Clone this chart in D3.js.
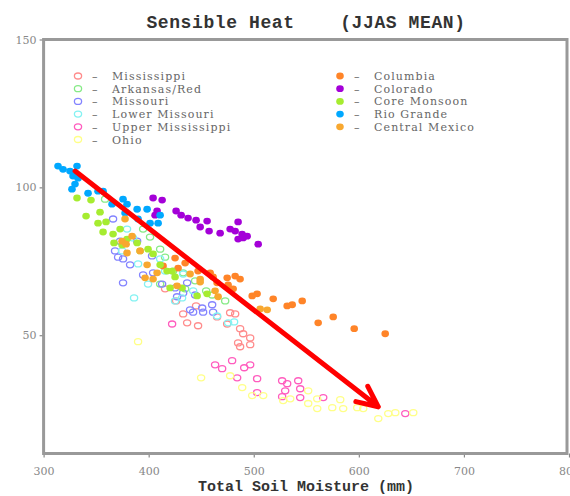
<!DOCTYPE html>
<html>
<head>
<meta charset="utf-8">
<script src="https://cdn.jsdelivr.net/npm/d3@7"></script>
<style>
    body { margin: 0; background: #fff; }
    svg { display: block; }
</style>
</head>
<body>
<div id="chart"></div>
<script>
// Soil moisture (mm) vs sensible heat, one array per basin
const mississippi = [[415.6,65.7],[426.1,61.6],[432.8,57.2],[436.6,54.2],[447.0,53.2],[477.5,57.6],[482.3,57.2],[474.7,53.8],[487.0,52.2],[489.9,50.5],[485.1,47.4],[496.6,49.1],[487.0,46.1],[496.6,46.8],[465.1,56.2],[445.1,59.9]];
const arkansasRed = [[358.5,96.0],[394.7,85.9],[401.3,83.2],[410.9,79.1],[415.6,76.4],[423.2,71.7],[410.9,67.3],[432.8,71.1],[434.7,65.7],[454.7,65.0],[460.4,63.6],[444.2,68.4],[472.8,61.6]];
const missouri = [[366.1,89.3],[372.8,81.8],[368.0,78.5],[370.9,76.4],[375.6,75.8],[382.3,73.8],[389.0,81.8],[403.2,76.8],[394.7,70.4],[404.2,71.1],[375.6,67.7],[412.8,67.3],[425.1,66.0],[436.6,67.7],[432.8,64.3],[427.0,63.0],[444.2,63.6],[439.4,58.6],[450.9,59.2],[460.4,60.3],[442.3,57.8],[451.8,57.8],[461.3,57.8]];
const lowerMissouri = [[379.4,85.9],[385.1,82.9],[374.7,78.5],[389.9,74.1],[399.4,67.3],[386.1,62.6],[415.6,71.7],[432.8,70.7],[431.8,62.6],[442.3,65.0],[465.1,56.5],[475.6,54.2],[481.3,54.5],[410.9,75.8],[425.1,61.6]];
const upperMississippi = [[422.3,53.8],[463.2,40.0],[469.9,38.7],[479.4,41.4],[490.9,39.0],[496.6,40.0],[484.2,35.6],[503.2,35.3],[503.2,30.6],[527.0,34.6],[531.8,33.6],[529.9,31.2],[527.0,29.2],[542.3,34.6],[544.2,31.9],[544.2,28.9],[566.1,28.9],[644.2,23.5]];
const ohio = [[389.9,47.8],[449.9,35.6],[477.5,36.3],[489.0,32.3],[498.5,29.6],[509.0,29.6],[528.0,27.9],[534.7,28.5],[551.8,31.2],[560.4,28.5],[551.8,26.9],[560.4,25.2],[574.7,25.5],[582.3,28.2],[585.1,25.2],[598.5,25.5],[604.2,25.2],[618.5,21.8],[628.0,23.5],[634.7,23.8],[651.8,23.8]];
const columbia = [[413.7,73.4],[425.1,76.1],[428.0,72.7],[434.7,74.4],[447.0,71.7],[458.5,71.1],[461.3,69.7],[465.1,67.7],[474.7,69.4],[482.3,70.0],[475.6,67.0],[480.4,65.7],[487.0,69.0],[498.5,63.3],[503.2,64.0],[518.5,62.3],[531.8,59.9],[536.6,60.3],[546.1,61.6],[561.3,54.2],[575.6,56.2],[595.6,52.2],[625.1,50.5]];
const colorado = [[404.2,96.4],[412.8,95.7],[408.0,92.0],[406.1,90.6],[426.1,92.0],[430.9,90.6],[437.5,89.6],[445.1,88.9],[455.6,88.6],[449.0,86.6],[457.5,85.2],[468.0,84.5],[477.5,85.9],[485.1,88.3],[482.3,85.2],[488.9,84.2],[493.7,83.5],[485.1,82.5],[489.9,82.9],[504.2,80.8]];
const coreMonsoon = [[331.8,96.4],[345.1,95.7],[353.7,91.6],[340.4,90.3],[351.8,87.9],[359.4,88.3],[356.6,84.9],[366.1,84.2],[372.8,85.9],[367.0,81.2],[379.4,82.5],[374.7,80.5],[389.0,81.2],[391.8,78.5],[399.4,79.1],[404.2,77.5],[410.9,73.8],[417.5,71.7],[422.3,71.7],[425.1,69.7],[420.4,66.0],[431.8,66.0],[446.1,63.3],[455.6,64.0]];
const rioGrande = [[313.7,107.2],[318.5,106.1],[325.1,105.5],[331.8,107.2],[328.0,103.8],[332.8,103.1],[329.9,101.1],[327.0,99.4],[342.3,98.0],[351.8,98.7],[356.6,98.7],[365.1,94.3],[375.6,96.0],[379.4,94.3],[389.0,92.6],[398.5,92.6],[377.5,91.3],[389.9,89.3],[401.3,87.9],[409.0,87.9],[410.9,90.6]];
const centralMexico = [[377.5,89.3],[374.7,81.8],[378.5,80.8],[384.2,83.5],[391.8,78.5],[379.4,77.8],[398.5,73.8],[396.6,69.4],[404.2,69.0],[408.0,71.1],[427.0,66.7],[439.4,70.7],[449.0,69.0],[463.2,65.0],[466.1,63.0],[449.0,68.0],[506.1,58.9],[512.8,58.6]];

const seriesNames = ['Mississippi', 'Arkansas/Red', 'Missouri', 'Lower Missouri', 'Upper Mississippi', 'Ohio',
    'Columbia', 'Colorado', 'Core Monsoon', 'Rio Grande', 'Central Mexico'];
const seriesValues = [mississippi, arkansasRed, missouri, lowerMissouri, upperMississippi, ohio,
    columbia, colorado, coreMonsoon, rioGrande, centralMexico];
const seriesColors = ['#ff8c8c', '#86ea86', '#8484ff', '#84f2f2', '#ff5cbe', '#ffff88',
    '#ff8428', '#a400d8', '#a6ec30', '#00a8ff', '#f8a830'];
const seriesFilled = [false, false, false, false, false, false, true, true, true, true, true];

const xTicks = [300, 400, 500, 600, 700, 800];
const yTicks = [50, 100, 150];
const trendStart = [330, 105.5];
const trendEnd = [618.5, 25.8];

const width = 570;
const height = 496;

const svg = d3.select('#chart')
    .append('svg')
    .attr('width', width)
    .attr('height', height);

const x = d3.scaleLinear().domain([300, 800]).range([43.6, 569]);
const y = d3.scaleLinear().domain([10, 150]).range([453.5, 39.5]);

// Title
svg.append('text')
    .attr('x', 306)
    .attr('y', 28)
    .attr('text-anchor', 'middle')
    .attr('font-family', 'Liberation Mono, monospace')
    .attr('font-weight', 'bold')
    .attr('font-size', 18)
    .attr('letter-spacing', 0.6)
    .attr('fill', '#333')
    .attr('xml:space', 'preserve')
    .text('Sensible Heat    (JJAS MEAN)');

// Axes
const xAxis = svg.append('g')
    .attr('transform', `translate(0,${y.range()[0]})`)
    .call(d3.axisBottom(x).tickValues(xTicks).tickSize(4).tickSizeOuter(0));

const yAxis = svg.append('g')
    .attr('transform', `translate(${x.range()[0]},0)`)
    .call(d3.axisLeft(y).tickValues(yTicks).tickSize(4).tickSizeOuter(0));

[xAxis, yAxis].forEach(axis => {
    axis.select('.domain').remove();
    axis.selectAll('.tick line').attr('stroke', '#888').attr('stroke-width', 1.2);
    axis.selectAll('.tick text')
        .attr('fill', '#888')
        .attr('font-family', 'DejaVu Serif, serif')
        .attr('font-size', 11);
});
xAxis.selectAll('.tick text').attr('dy', '1.3em');

// Frame
svg.append('rect')
    .attr('x', x.range()[0])
    .attr('y', y.range()[1])
    .attr('width', x.range()[1] - x.range()[0] - 2)
    .attr('height', y.range()[0] - y.range()[1])
    .attr('fill', 'none')
    .attr('stroke', '#999')
    .attr('stroke-width', 3);

svg.append('text')
    .attr('x', 306)
    .attr('y', 491)
    .attr('text-anchor', 'middle')
    .attr('font-family', 'Liberation Mono, monospace')
    .attr('font-weight', 'bold')
    .attr('font-size', 15)
    .attr('fill', '#333')
    .text('Total Soil Moisture (mm)');

// Points
function drawMarker(g, cx, cy, color, filled) {
    if (filled) {
        g.append('ellipse')
            .attr('cx', cx).attr('cy', cy)
            .attr('rx', 3.8).attr('ry', 3.4)
            .attr('fill', color);
    } else {
        g.append('ellipse')
            .attr('cx', cx).attr('cy', cy)
            .attr('rx', 3.6).attr('ry', 3.0)
            .attr('fill', 'none')
            .attr('stroke', color)
            .attr('stroke-width', 1.3);
    }
}

const points = svg.append('g');
seriesValues.forEach((values, i) => {
    values.forEach(d => drawMarker(points, x(d[0]), y(d[1]), seriesColors[i], seriesFilled[i]));
});

// Legend
const legend = svg.append('g')
    .attr('font-family', 'DejaVu Serif, serif')
    .attr('font-size', 11)
    .attr('letter-spacing', 1.1)
    .attr('fill', '#666');

seriesNames.forEach((name, i) => {
    const col = i < 6 ? 0 : 1;
    const row = i < 6 ? i : i - 6;
    const lx = col === 0 ? 78 : 340;
    const ly = 76 + row * 12.7;
    drawMarker(legend, lx, ly, seriesColors[i], seriesFilled[i]);
    legend.append('text')
        .attr('x', lx + 14)
        .attr('y', ly + 4)
        .text('–');
    legend.append('text')
        .attr('x', lx + 34)
        .attr('y', ly + 4)
        .text(name);
});

// Trend arrow
const sx = x(trendStart[0]), sy = y(trendStart[1]);
const ex = x(trendEnd[0]), ey = y(trendEnd[1]);
const ang = Math.atan2(sy - ey, sx - ex);
const headLen = 23;
const spread = 25 * Math.PI / 180;

svg.append('path')
    .attr('d', `M${sx},${sy}L${ex},${ey}` +
        `M${ex + headLen * Math.cos(ang + spread)},${ey + headLen * Math.sin(ang + spread)}L${ex},${ey}` +
        `L${ex + headLen * Math.cos(ang - spread)},${ey + headLen * Math.sin(ang - spread)}`)
    .attr('fill', 'none')
    .attr('stroke', '#ff0000')
    .attr('stroke-width', 5)
    .attr('stroke-linecap', 'round')
    .attr('stroke-linejoin', 'round');
</script>
</body>
</html>
